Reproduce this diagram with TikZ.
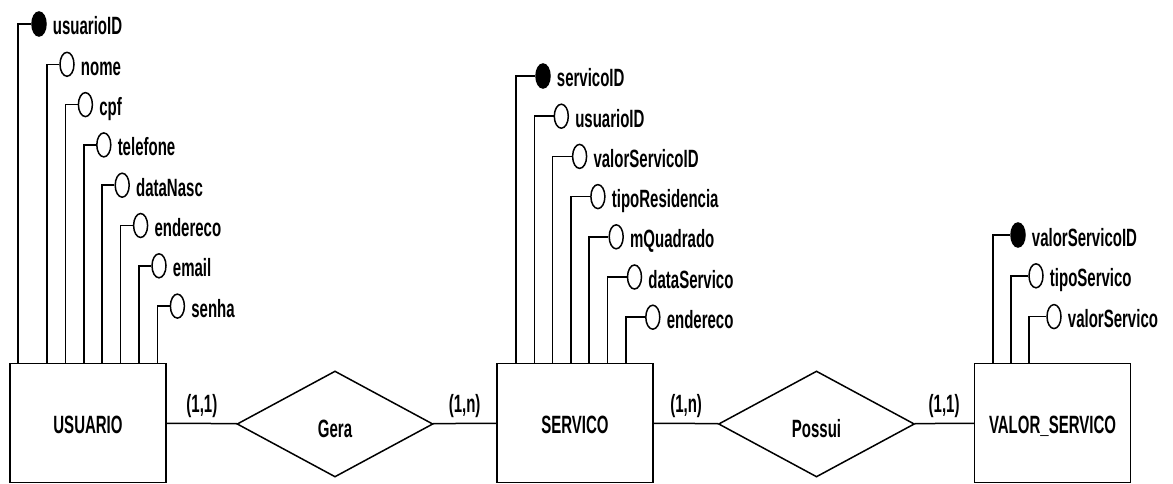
\documentclass[tikz,border=0pt]{standalone}
\usepackage{fontspec}
\newfontfamily\erfont[FakeStretch=0.6]{Liberation Sans}
\usetikzlibrary{shapes.geometric,positioning}
\tikzset{
  entidade/.style={draw, line width=1.5pt, minimum width=156pt, minimum height=119pt, inner sep=0pt, text height=21pt, text depth=0pt},
  relacao/.style={draw, diamond, line width=1.5pt, minimum width=196pt, minimum height=106pt, inner sep=0pt, text height=26pt, text depth=0pt},
  atrib/.style={draw, ellipse, line width=1.5pt, minimum width=14pt, minimum height=24pt, inner sep=0pt},
  chave/.style={atrib, fill=black},
  rotulo/.style={inner sep=0pt, text height=22pt, text depth=0pt, anchor=west},
  card/.style={above=2pt, inner sep=3pt},
  ligacao/.style={line width=1.5pt}
}
\begin{document}
\begin{tikzpicture}[x=1pt, y=-1pt, font=\erfont\bfseries\fontsize{25pt}{28pt}\selectfont]
\useasboundingbox (0,0) rectangle (1173,484);
\node[entidade] (usuario) at (88,423) {USUARIO};
\node[entidade] (servico) at (575,423) {SERVICO};
\node[entidade] (valor) at (1052.5,423) {VALOR\_SERVICO};
\node[relacao] (gera) at (335,424) {Gera};
\node[relacao] (possui) at (816.5,424) {Possui};
\draw[ligacao] (usuario) -- node[card] (c1) {(1,1)} (gera);
\draw[ligacao] (gera) -- node[card] (c2) {(1,n)} (servico);
\draw[ligacao] (servico) -- node[card] (c3) {(1,n)} (possui);
\draw[ligacao] (possui) -- node[card] (c4) {(1,1)} (valor);

\node[chave] (u0) at (39,24) {};
\node[rotulo, right=6pt of u0] (tu0) {usuarioID};
\coordinate (pu0) at (18,363.5);
\draw[ligacao] (pu0) |- (u0.west);
\foreach \txt [count=\i] in {nome,cpf,telefone,dataNasc,endereco,email,senha} {
  \coordinate (pu\i) at ({47+18.4*(\i-1)},363.5);
  \node[atrib] (u\i) at ({67+18.4*(\i-1)},{24+40.3*\i}) {};
  \node[rotulo, right=6pt of u\i] (tu\i) {\txt};
  \draw[ligacao] (pu\i) |- (u\i.west);
}

\node[chave] (s0) at (543,76) {};
\node[rotulo, right=6pt of s0] (ts0) {servicoID};
\coordinate (ps0) at (516,363.5);
\draw[ligacao] (ps0) |- (s0.west);
\foreach \txt [count=\i] in {usuarioID,valorServicoID,tipoResidencia,mQuadrado,dataServico,endereco} {
  \coordinate (ps\i) at ({516+18.3*\i},363.5);
  \node[atrib] (s\i) at ({543+18.3*\i},{76+40.2*\i}) {};
  \node[rotulo, right=6pt of s\i] (ts\i) {\txt};
  \draw[ligacao] (ps\i) |- (s\i.west);
}

\node[chave] (v0) at (1018,235) {};
\node[rotulo, right=6pt of v0] (tv0) {valorServicoID};
\coordinate (pv0) at (993,363.5);
\draw[ligacao] (pv0) |- (v0.west);
\foreach \txt [count=\i] in {tipoServico,valorServico} {
  \coordinate (pv\i) at ({993+18*\i},363.5);
  \node[atrib] (v\i) at ({1018+18*\i},{235+40.8*\i}) {};
  \node[rotulo, right=6pt of v\i] (tv\i) {\txt};
  \draw[ligacao] (pv\i) |- (v\i.west);
}
\end{tikzpicture}
\end{document}
